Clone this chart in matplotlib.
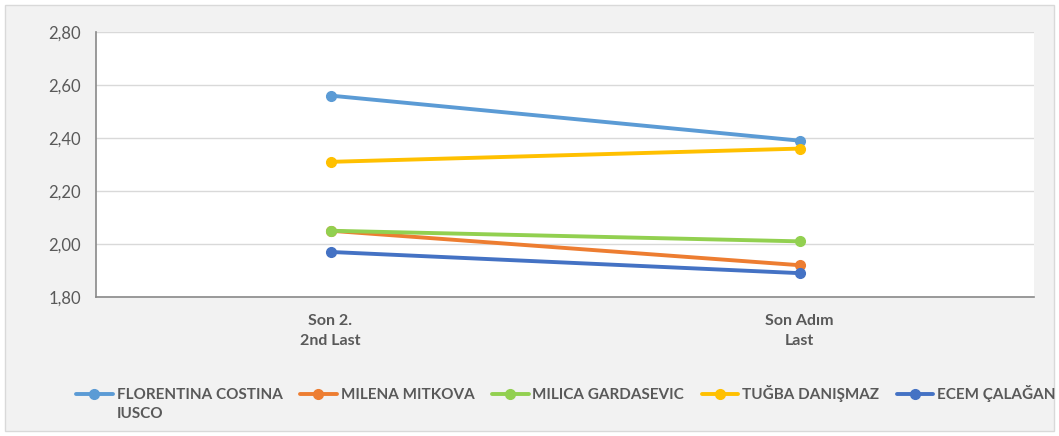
import matplotlib
matplotlib.use('Agg')
import matplotlib.pyplot as plt
from matplotlib.patches import Rectangle
from matplotlib.ticker import FuncFormatter

plt.rcParams['font.family'] = ['Lato', 'DejaVu Sans']

categories = ['Son 2.\n2nd Last', 'Son Adım\nLast']
names = ['FLORENTINA COSTINA', 'MILENA MITKOVA', 'MILICA GARDASEVIC',
         'TUĞBA DANIŞMAZ', 'ECEM ÇALAĞAN']
name_wrap = 'IUSCO'  # second line of the first legend label
florentina = [2.56, 2.39]
milena = [2.05, 1.92]
milica = [2.05, 2.01]
tugba = [2.31, 2.36]
ecem = [1.97, 1.89]
colors = ['#5B9BD5', '#ED7D31', '#92D050', '#FFC000', '#4472C4']

fig = plt.figure(figsize=(10.59, 4.36), dpi=100, facecolor='white')
# chart area background with thin border
fig.patches.append(Rectangle((5 / 1059, 5 / 436), 1049 / 1059, 426 / 436,
                             transform=fig.transFigure, facecolor='#f2f2f2',
                             edgecolor='#d9d9d9', linewidth=1, zorder=-10))

ax = fig.add_axes([96 / 1059, 1 - 297 / 436, 938 / 1059, 265 / 436])
ax.set_facecolor('white')

x = range(len(categories))
for vals, name, c in zip([florentina, milena, milica, tugba, ecem], names, colors):
    ax.plot(x, vals, color=c, linewidth=2.8, marker='o', markersize=7,
            label=name, solid_capstyle='round')

ax.set_xlim(-0.5, 1.5)
ax.set_ylim(1.8, 2.8)
ax.set_yticks([1.8, 2.0, 2.2, 2.4, 2.6, 2.8])
ax.yaxis.set_major_formatter(FuncFormatter(lambda v, p: '{:.2f}'.format(v).replace('.', ',')))
ax.set_xticks(list(x))
ax.set_xticklabels(categories, fontsize=11.5, color='#595959', fontweight='bold',
                   linespacing=1.6)
ax.tick_params(axis='y', length=0, pad=11, labelsize=12, labelcolor='#595959')
ax.tick_params(axis='x', length=0, pad=12)
ax.grid(axis='y', color='#d9d9d9', linewidth=1)
ax.set_axisbelow(True)
for s in ['top', 'right']:
    ax.spines[s].set_visible(False)
ax.spines['left'].set_color('#898989')
ax.spines['bottom'].set_color('#898989')
ax.spines['left'].set_linewidth(1.2)
ax.spines['bottom'].set_linewidth(1.2)

leg = fig.legend(loc='upper left', bbox_to_anchor=(70 / 1059, 1 - 379 / 436),
                 ncol=5, frameon=False, fontsize=11, handlelength=2.4,
                 handletextpad=0.25, columnspacing=1.15, borderaxespad=0,
                 labelcolor='#595959')
for t in leg.get_texts():
    t.set_fontweight('bold')

# wrapped second line under the first legend label
fig.canvas.draw()
bb = leg.get_texts()[0].get_window_extent()
fig.text(bb.x0 / 1059, (bb.y0 - 5) / 436, name_wrap, fontsize=11,
         fontweight='bold', color='#595959', va='top', ha='left')

fig.savefig('out.png', dpi=100, facecolor=fig.get_facecolor())
